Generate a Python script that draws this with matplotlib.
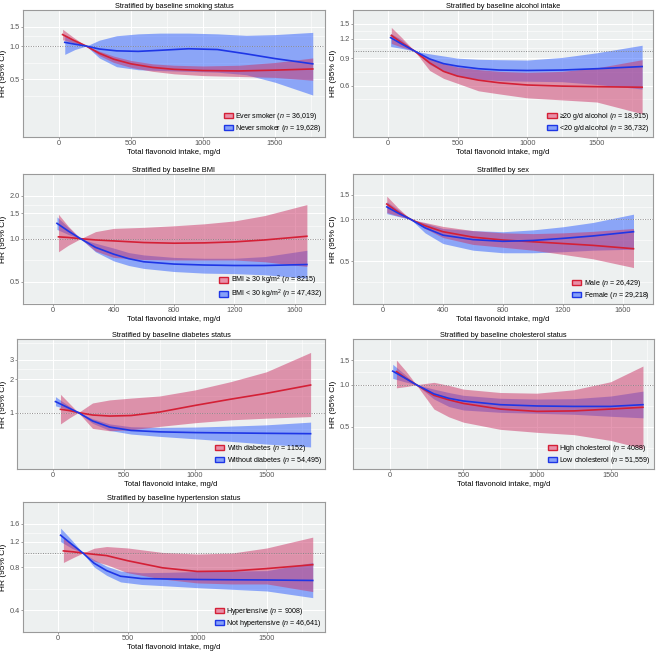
"""Restricted cubic spline HR curves, stratified panels (7 panels, 4x2 grid)."""
import numpy as np
import matplotlib
matplotlib.use("Agg")
import matplotlib.pyplot as plt
from matplotlib.patches import Patch

plt.rcParams["font.family"] = ["Liberation Sans", "DejaVu Sans"]
plt.rcParams["mathtext.fontset"] = "custom"
plt.rcParams["mathtext.it"] = "Liberation Sans:italic"
plt.rcParams["mathtext.rm"] = "Liberation Sans"

# ---- panel 1: smoking ----
smk_x_ever = [25, 100, 189, 280, 380, 500, 650, 800, 1000, 1250, 1500, 1762]
smk_hr_ever = [1.27, 1.13, 1.00, 0.86, 0.76, 0.69, 0.64, 0.615, 0.60, 0.595, 0.605, 0.62]
smk_lo_ever = [1.14, 1.07, 1.00, 0.82, 0.71, 0.64, 0.59, 0.56, 0.54, 0.53, 0.52, 0.49]
smk_hi_ever = [1.42, 1.20, 1.00, 0.90, 0.81, 0.74, 0.69, 0.67, 0.66, 0.67, 0.71, 0.78]
smk_x_never = [40, 110, 189, 280, 400, 550, 700, 900, 1100, 1300, 1500, 1762]
smk_hr_never = [1.08, 1.04, 1.00, 0.94, 0.905, 0.895, 0.915, 0.945, 0.93, 0.85, 0.77, 0.69]
smk_lo_never = [0.84, 0.93, 1.00, 0.78, 0.65, 0.61, 0.60, 0.59, 0.58, 0.55, 0.47, 0.36]
smk_hi_never = [1.27, 1.12, 1.00, 1.13, 1.24, 1.29, 1.31, 1.31, 1.29, 1.25, 1.27, 1.33]

# ---- panel 2: alcohol ----
alc_x_hi = [25, 100, 192, 300, 400, 500, 650, 800, 1000, 1250, 1500, 1825]
alc_hr_hi = [1.26, 1.13, 1.00, 0.84, 0.74, 0.69, 0.65, 0.625, 0.605, 0.595, 0.59, 0.585]
alc_lo_hi = [1.12, 1.06, 1.00, 0.75, 0.667, 0.62, 0.555, 0.53, 0.50, 0.485, 0.47, 0.395]
alc_hi_hi = [1.42, 1.22, 1.00, 0.90, 0.83, 0.79, 0.76, 0.74, 0.73, 0.74, 0.78, 0.88]
alc_x_lo = [20, 100, 192, 300, 400, 500, 650, 800, 1000, 1250, 1500, 1825]
alc_hr_lo = [1.22, 1.11, 1.00, 0.89, 0.83, 0.80, 0.77, 0.755, 0.75, 0.755, 0.77, 0.795]
alc_lo_lo = [1.07, 1.04, 1.00, 0.82, 0.74, 0.69, 0.66, 0.645, 0.64, 0.635, 0.61, 0.57]
alc_hi_lo = [1.30, 1.18, 1.00, 0.96, 0.93, 0.90, 0.885, 0.88, 0.875, 0.91, 0.975, 1.09]

# ---- panel 3: BMI ----
bmi_x_hi = [35, 100, 181, 280, 400, 600, 800, 1000, 1200, 1400, 1680]
bmi_hr_hi = [1.03, 1.02, 1.00, 0.98, 0.965, 0.94, 0.93, 0.935, 0.95, 0.98, 1.04]
bmi_lo_hi = [0.81, 0.90, 1.00, 0.82, 0.74, 0.715, 0.71, 0.71, 0.71, 0.69, 0.64]
bmi_hi_hi = [1.48, 1.22, 1.00, 1.12, 1.18, 1.20, 1.23, 1.27, 1.33, 1.45, 1.73]
bmi_x_lo = [25, 100, 181, 280, 400, 500, 600, 800, 1000, 1200, 1400, 1680]
bmi_hr_lo = [1.28, 1.13, 1.00, 0.87, 0.78, 0.725, 0.69, 0.665, 0.655, 0.65, 0.65, 0.66]
bmi_lo_lo = [1.16, 1.07, 1.00, 0.81, 0.70, 0.65, 0.62, 0.59, 0.575, 0.57, 0.56, 0.53]
bmi_hi_lo = [1.42, 1.20, 1.00, 0.93, 0.86, 0.80, 0.77, 0.74, 0.73, 0.73, 0.75, 0.83]

# ---- panel 4: sex ----
sex_x_m = [25, 100, 185, 280, 400, 600, 800, 1000, 1200, 1400, 1670]
sex_hr_m = [1.29, 1.13, 1.00, 0.90, 0.815, 0.745, 0.71, 0.69, 0.67, 0.65, 0.615]
sex_lo_m = [1.12, 1.06, 1.00, 0.86, 0.74, 0.66, 0.63, 0.60, 0.56, 0.52, 0.45]
sex_hi_m = [1.47, 1.21, 1.00, 0.95, 0.89, 0.83, 0.80, 0.79, 0.80, 0.82, 0.86]
sex_x_f = [25, 100, 185, 280, 400, 600, 800, 1000, 1200, 1400, 1670]
sex_hr_f = [1.23, 1.11, 1.00, 0.87, 0.77, 0.715, 0.695, 0.705, 0.73, 0.76, 0.815]
sex_lo_f = [1.10, 1.05, 1.00, 0.80, 0.67, 0.60, 0.575, 0.575, 0.585, 0.60, 0.61]
sex_hi_f = [1.34, 1.18, 1.00, 0.94, 0.86, 0.83, 0.815, 0.84, 0.885, 0.95, 1.09]

# ---- panel 5: diabetes ----
dia_x_w = [55, 120, 180, 280, 400, 550, 750, 1000, 1250, 1500, 1810]
dia_hr_w = [1.07, 1.04, 1.00, 0.95, 0.93, 0.94, 1.01, 1.16, 1.32, 1.49, 1.77]
dia_lo_w = [0.79, 0.90, 1.00, 0.72, 0.685, 0.70, 0.75, 0.81, 0.86, 0.89, 0.92]
dia_hi_w = [1.46, 1.20, 1.00, 1.22, 1.30, 1.35, 1.41, 1.60, 1.90, 2.33, 3.48]
dia_x_wo = [20, 100, 180, 280, 400, 550, 750, 1000, 1250, 1500, 1810]
dia_hr_wo = [1.255, 1.12, 1.00, 0.84, 0.74, 0.69, 0.67, 0.66, 0.655, 0.65, 0.645]
dia_lo_wo = [1.15, 1.07, 1.00, 0.80, 0.69, 0.64, 0.61, 0.58, 0.55, 0.52, 0.49]
dia_hi_wo = [1.39, 1.18, 1.00, 0.88, 0.79, 0.745, 0.735, 0.74, 0.755, 0.775, 0.82]

# ---- panel 6: cholesterol ----
chol_x_hi = [45, 110, 180, 300, 400, 500, 750, 1000, 1250, 1500, 1720]
chol_hr_hi = [1.24, 1.11, 1.00, 0.84, 0.78, 0.735, 0.67, 0.645, 0.65, 0.67, 0.69]
chol_lo_hi = [0.95, 0.97, 1.00, 0.67, 0.59, 0.54, 0.48, 0.457, 0.44, 0.40, 0.35]
chol_hi_hi = [1.50, 1.25, 1.00, 1.04, 0.99, 0.93, 0.88, 0.87, 0.92, 1.05, 1.36]
chol_x_lo = [20, 100, 180, 300, 400, 500, 750, 1000, 1250, 1500, 1720]
chol_hr_lo = [1.25, 1.12, 1.00, 0.86, 0.80, 0.765, 0.72, 0.705, 0.70, 0.70, 0.72]
chol_lo_lo = [1.11, 1.05, 1.00, 0.79, 0.70, 0.66, 0.635, 0.625, 0.615, 0.595, 0.58]
chol_hi_lo = [1.40, 1.19, 1.00, 0.93, 0.88, 0.84, 0.80, 0.79, 0.795, 0.83, 0.90]

# ---- panel 7: hypertension ----
hyp_x_y = [40, 110, 180, 260, 350, 500, 750, 1000, 1250, 1500, 1829]
hyp_hr_y = [1.035, 1.02, 1.00, 0.98, 0.96, 0.885, 0.79, 0.745, 0.75, 0.78, 0.83]
hyp_lo_y = [0.86, 0.93, 1.00, 0.88, 0.83, 0.73, 0.66, 0.62, 0.61, 0.61, 0.54]
hyp_hi_y = [1.29, 1.12, 1.00, 1.08, 1.11, 1.085, 1.01, 0.985, 1.00, 1.085, 1.29]
hyp_x_n = [20, 100, 180, 260, 350, 450, 600, 800, 1000, 1250, 1500, 1829]
hyp_hr_n = [1.33, 1.15, 1.00, 0.85, 0.755, 0.69, 0.665, 0.66, 0.655, 0.652, 0.65, 0.645]
hyp_lo_n = [1.20, 1.08, 1.00, 0.80, 0.70, 0.63, 0.605, 0.59, 0.575, 0.56, 0.545, 0.49]
hyp_hi_n = [1.49, 1.23, 1.00, 0.90, 0.81, 0.75, 0.73, 0.735, 0.745, 0.75, 0.755, 0.86]

RED_LINE = "#D42036"
BLUE_LINE = "#1E36E6"
RED_FILL = "#CC3366"
BLUE_FILL = "#2A5CFF"
BG = "#EDF0F0"

panels = [
    dict(title="Stratified by baseline smoking status",
         red=(smk_x_ever, smk_hr_ever, smk_lo_ever, smk_hi_ever),
         blue=(smk_x_never, smk_hr_never, smk_lo_never, smk_hi_never),
         labels=[r"Ever smoker ($\it{n}$ = 36,019)", r"Never smoker ($\it{n}$ = 19,628)"],
         yt=[0.5, 1.0, 1.5], ytl=["0.5", "1.0", "1.5"], ylim=(0.15, 2.02),
         xt=[0, 500, 1000, 1500], xlim=(-83, 1847)),
    dict(title="Stratified by baseline alcohol intake",
         red=(alc_x_hi, alc_hr_hi, alc_lo_hi, alc_hi_hi),
         blue=(alc_x_lo, alc_hr_lo, alc_lo_lo, alc_hi_lo),
         labels=[r"≥20 g/d alcohol ($\it{n}$ = 18,915)", r"<20 g/d alcohol ($\it{n}$ = 36,732)"],
         yt=[0.6, 0.9, 1.2, 1.5], ytl=["0.6", "0.9", "1.2", "1.5"], ylim=(0.28, 1.75),
         xt=[0, 500, 1000, 1500], xlim=(-84, 1903)),
    dict(title="Stratified by baseline BMI",
         red=(bmi_x_hi, bmi_hr_hi, bmi_lo_hi, bmi_hi_hi),
         blue=(bmi_x_lo, bmi_hr_lo, bmi_lo_lo, bmi_hi_lo),
         labels=[r"BMI ≥ 30 kg/m$^2$ ($\it{n}$ = 8215)", r"BMI < 30 kg/m$^2$ ($\it{n}$ = 47,432)"],
         yt=[0.5, 1.0, 1.5, 2.0], ytl=["0.5", "1.0", "1.5", "2.0"], ylim=(0.35, 2.75),
         xt=[0, 400, 800, 1200, 1600], xlim=(-79, 1767)),
    dict(title="Stratified by sex",
         red=(sex_x_m, sex_hr_m, sex_lo_m, sex_hi_m),
         blue=(sex_x_f, sex_hr_f, sex_lo_f, sex_hi_f),
         labels=[r"Male ($\it{n}$ = 26,429)", r"Female ($\it{n}$ = 29,218)"],
         yt=[0.5, 1.0, 1.5], ytl=["0.5", "1.0", "1.5"], ylim=(0.246, 2.12),
         xt=[0, 400, 800, 1200, 1600], xlim=(-81, 1747)),
    dict(title="Stratified by baseline diabetes status",
         red=(dia_x_w, dia_hr_w, dia_lo_w, dia_hi_w),
         blue=(dia_x_wo, dia_hr_wo, dia_lo_wo, dia_hi_wo),
         labels=[r"With diabetes ($\it{n}$ = 1152)", r"Without diabetes ($\it{n}$ = 54,495)"],
         yt=[1, 2, 3], ytl=["1", "2", "3"], ylim=(0.31, 4.6),
         xt=[0, 500, 1000, 1500], xlim=(-91, 1911)),
    dict(title="Stratified by baseline cholesterol status",
         red=(chol_x_hi, chol_hr_hi, chol_lo_hi, chol_hi_hi),
         blue=(chol_x_lo, chol_hr_lo, chol_lo_lo, chol_hi_lo),
         labels=[r"High cholesterol ($\it{n}$ = 4088)", r"Low cholesterol ($\it{n}$ = 51,559)"],
         yt=[0.5, 1.0, 1.5], ytl=["0.5", "1.0", "1.5"], ylim=(0.25, 2.05),
         xt=[0, 500, 1000, 1500], xlim=(-79, 1795)),
    dict(title="Stratified by baseline hypertension status",
         red=(hyp_x_y, hyp_hr_y, hyp_lo_y, hyp_hi_y),
         blue=(hyp_x_n, hyp_hr_n, hyp_lo_n, hyp_hi_n),
         labels=[r"Hypertensive ($\it{n}$ = 9008)", r"Not hypertensive ($\it{n}$ = 46,641)"],
         yt=[0.4, 0.8, 1.2, 1.6], ytl=["0.4", "0.8", "1.2", "1.6"], ylim=(0.32, 2.14),
         xt=[0, 500, 1000, 1500], xlim=(-86, 1917)),
]

W, H = 658, 652
# axes boxes in pixels: left, top, right, bottom
boxes = [
    (23, 10, 325, 137), (353, 10, 653, 137),
    (23, 174, 325, 304), (353, 174, 653, 304),
    (17, 339, 325, 469), (353, 339, 654, 469),
    (23, 502, 325, 632),
]

fig = plt.figure(figsize=(W / 100, H / 100), dpi=100)

for p, (l, t, r, b) in zip(panels, boxes):
    ax = fig.add_axes([l / W, 1 - b / H, (r - l) / W, (b - t) / H])
    ax.set_facecolor(BG)
    ax.set_yscale("log")

    xb, hb, lob, hib = p["blue"]
    xr, hr, lor, hir = p["red"]
    ax.fill_between(xb, lob, hib, color=BLUE_FILL, alpha=0.5, lw=0, zorder=2)
    ax.fill_between(xr, lor, hir, color=RED_FILL, alpha=0.5, lw=0, zorder=2)
    ax.plot(xr, hr, color=RED_LINE, lw=1.2, zorder=3)
    ax.plot(xb, hb, color=BLUE_LINE, lw=1.2, zorder=3)
    ax.axhline(1.0, color="#888888", lw=0.7, ls=(0, (1, 1.5)), zorder=2.5)

    ax.set_xlim(*p["xlim"])
    ax.set_ylim(*p["ylim"])
    ax.set_xticks(p["xt"])
    ax.set_yticks(p["yt"])
    ax.set_yticklabels(p["ytl"])
    yt = np.log(p["yt"])
    step = yt[1] - yt[0]
    ymin = np.exp(np.concatenate([[yt[0] - step / 2], (yt[:-1] + yt[1:]) / 2,
                                  [yt[-1] + step / 2]]))
    ax.set_yticks(ymin, minor=True)
    ax.set_yticklabels([], minor=True)
    xt = np.array(p["xt"], dtype=float)
    xs = xt[1] - xt[0]
    ax.set_xticks(np.concatenate([xt - xs / 2, [xt[-1] + xs / 2]]), minor=True)
    ax.grid(which="major", color="white", lw=0.8, zorder=0)
    ax.grid(which="minor", color="white", lw=0.4, zorder=0)
    ax.set_axisbelow(True)
    ax.tick_params(which="major", labelsize=5.3, colors="#777777", length=1.5,
                   width=0.5, pad=1, labelcolor="#555555")
    ax.tick_params(which="minor", length=0)
    for s in ax.spines.values():
        s.set_color("#9A9A9A")
        s.set_linewidth(0.8)

    ax.set_title(p["title"], fontsize=5.3, pad=1.5)
    ax.set_xlabel("Total flavonoid intake, mg/d", fontsize=5.5, labelpad=1)
    ax.set_ylabel("HR (95% CI)", fontsize=6.0, labelpad=1.5)

    handles = [Patch(facecolor="#E890A8", edgecolor=RED_LINE, lw=1.0),
               Patch(facecolor="#86A0F8", edgecolor=BLUE_LINE, lw=1.0)]
    ax.legend(handles, p["labels"], loc="lower right", frameon=False,
              fontsize=5.1, handlelength=1.3, handleheight=0.85,
              handletextpad=0.35, labelspacing=0.12, borderaxespad=0.35,
              borderpad=0.1)

fig.savefig("out.png", dpi=100)
